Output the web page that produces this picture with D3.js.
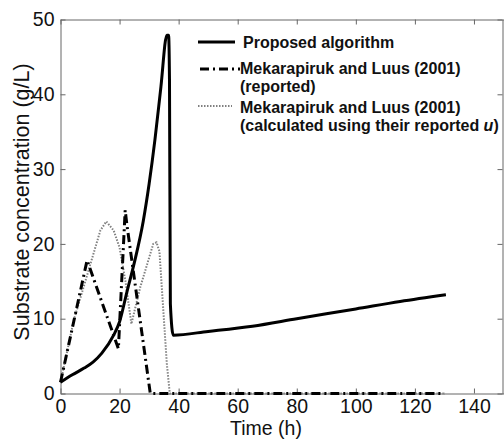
<!DOCTYPE html>
<meta charset="utf-8">
<html>
<head>
<title>Substrate concentration</title>
<script src="https://d3js.org/d3.v7.min.js"></script>
<style>
body { margin: 0; background: #fff; }
svg text { font-family: "Liberation Sans", Arial, sans-serif; fill: #111; }
.axis path, .axis line { stroke: #666; stroke-width: 1; }
.axis text { font-size: 19.5px; }
.leg { font-size: 16px; font-weight: bold; }
</style>
</head>
<body>
<div id="chart"></div>
<script>

// time (h) and substrate (g/L)
var proposedT = [0, 4, 8, 11, 14, 18, 20, 22.5, 25, 28, 30, 32, 34, 36, 36.6, 36.9, 37.2, 38.2, 50, 65, 80, 100, 115, 130.5];
var proposedS = [1.5, 2.5, 3.4, 4.2, 5.4, 7.8, 9.6, 13.6, 17.5, 23, 28, 34, 41, 47.9, 47.9, 42, 12, 7.8, 8.3, 9.0, 10.0, 11.3, 12.3, 13.2];

var reportedT = [0, 9, 19.6, 21.9, 22.5, 30.4, 130];
var reportedS = [1.5, 17.8, 6, 24.5, 22.5, 0, 0];

var calcT = [0, 4.5, 8.4, 13.5, 15.5, 18, 20, 22, 24, 27, 31.4, 32.5, 33.5, 36, 37, 130];
var calcS = [1.5, 9.8, 15, 21.8, 23, 21.8, 19.5, 15, 9.3, 14.2, 20, 20.2, 19, 4, 0, 0];

var xTicks = [0, 20, 40, 60, 80, 100, 120, 140];
var yTicks = [0, 10, 20, 30, 40, 50];

var legendLabels = [
  ["Proposed algorithm"],
  ["Mekarapiruk and Luus (2001)", "(reported)"],
  ["Mekarapiruk and Luus (2001)", "(calculated using their reported u)"]
];

var W = 504, H = 439;
var svg = d3.select("#chart").append("svg")
    .attr("width", W)
    .attr("height", H);

var x = d3.scaleLinear().domain([0, 150]).range([60.5, 503.5]);
var y = d3.scaleLinear().domain([0, 50]).range([393.5, 19.5]);

// frame + inward ticks
svg.append("g").attr("class", "axis")
  .attr("transform", "translate(0," + y(0) + ")")
  .call(d3.axisBottom(x).tickValues(xTicks).tickSize(-5).tickSizeOuter(0).tickPadding(6));
svg.append("g").attr("class", "axis")
  .attr("transform", "translate(0," + y(50) + ")")
  .call(d3.axisTop(x).tickValues(xTicks).tickSize(-5).tickSizeOuter(0).tickFormat(""));
svg.append("g").attr("class", "axis")
  .attr("transform", "translate(" + x(0) + ",0)")
  .call(d3.axisLeft(y).tickValues(yTicks).tickSize(-5).tickSizeOuter(0).tickPadding(6));
svg.append("g").attr("class", "axis")
  .attr("transform", "translate(" + (W - 1.5) + ",0)")
  .call(d3.axisRight(y).tickValues(yTicks).tickSize(-5).tickSizeOuter(0).tickFormat(""));
svg.selectAll(".axis text").attr("fill", "#111");

// axis titles
svg.append("text")
  .attr("x", 266).attr("y", 435)
  .attr("text-anchor", "middle")
  .style("font-size", "19.5px")
  .text("Time (h)");
svg.append("text")
  .attr("transform", "translate(29,202) rotate(-90)")
  .attr("text-anchor", "middle")
  .style("font-size", "21.5px")
  .text("Substrate concentration (g/L)");

function pts(ts, ss) { return ts.map(function(t, i) { return [t, ss[i]]; }); }
var line = d3.line().x(function(d) { return x(d[0]); }).y(function(d) { return y(d[1]); });
var smooth = d3.line().curve(d3.curveMonotoneX).x(function(d) { return x(d[0]); }).y(function(d) { return y(d[1]); });

var styles = [
  {stroke: "#000", width: 3, dash: null},
  {stroke: "#000", width: 3, dash: "9,4,2,4"},
  {stroke: "#808080", width: 2, dash: "1.5,1.5"}
];

// dotted first, then dash-dot, solid on top
svg.append("path").datum(pts(calcT, calcS))
  .attr("d", line).attr("fill", "none")
  .attr("stroke", styles[2].stroke).attr("stroke-width", styles[2].width)
  .attr("stroke-dasharray", styles[2].dash);
svg.append("path").datum(pts(reportedT, reportedS))
  .attr("d", line).attr("fill", "none")
  .attr("stroke", styles[1].stroke).attr("stroke-width", styles[1].width)
  .attr("stroke-dasharray", styles[1].dash);
svg.append("path").datum(pts(proposedT, proposedS))
  .attr("d", smooth).attr("fill", "none")
  .attr("stroke", styles[0].stroke).attr("stroke-width", styles[0].width)
  .attr("stroke-linejoin", "round");

// legend
var legY = [42, 69, 106];
var legX = [[198, 235], [200, 240], [198, 232]];
var textBase = [[47.5], [74, 92], [113, 131]];
legendLabels.forEach(function(lines, i) {
  var st = styles[i];
  svg.append("line")
    .attr("x1", legX[i][0]).attr("x2", legX[i][1])
    .attr("y1", legY[i]).attr("y2", legY[i])
    .attr("stroke", st.stroke)
    .attr("stroke-width", st.width)
    .attr("stroke-dasharray", st.dash);
  lines.forEach(function(txt, j) {
    var t = svg.append("text")
      .attr("class", "leg")
      .attr("x", i == 0 ? 243 : 240)
      .attr("y", textBase[i][j]);
    if (txt.slice(-2) == "u)") {
      t.append("tspan").text(txt.slice(0, -2));
      t.append("tspan").style("font-style", "italic").text("u");
      t.append("tspan").text(")");
    } else {
      t.text(txt);
    }
  });
});

</script>
</body>
</html>
